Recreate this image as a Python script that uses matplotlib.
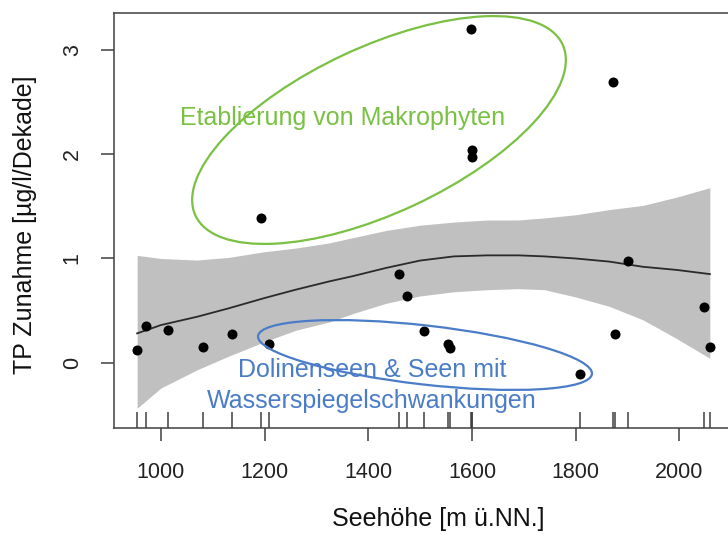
import matplotlib
matplotlib.use("Agg")
import matplotlib.pyplot as plt
from matplotlib.patches import Ellipse

plt.rcParams['font.family'] = ['Liberation Sans', 'DejaVu Sans']

# lakes: altitude (m) and TP increase per decade
seehoehe = [954, 972, 1013, 1081, 1138, 1193, 1208, 1459, 1475, 1507, 1553, 1557,
            1598, 1600, 1601, 1809, 1872, 1876, 1902, 2047, 2060]
tp_zunahme = [0.12, 0.35, 0.31, 0.15, 0.27, 1.39, 0.18, 0.85, 0.64, 0.30, 0.175, 0.135,
              3.21, 2.04, 1.975, -0.11, 2.70, 0.27, 0.98, 0.53, 0.145]

# smoother and its confidence band
fit_x = [954, 1000, 1070, 1130, 1200, 1260, 1325, 1370, 1435, 1500, 1565, 1630,
         1690, 1740, 1800, 1865, 1930, 1995, 2059]
fit_y = [0.28, 0.36, 0.44, 0.52, 0.62, 0.70, 0.78, 0.83, 0.91, 0.98, 1.02, 1.03,
         1.03, 1.02, 1.00, 0.97, 0.92, 0.89, 0.85]
band_hi = [1.03, 1.00, 0.985, 1.01, 1.065, 1.10, 1.15, 1.20, 1.27, 1.32, 1.35, 1.37,
           1.37, 1.39, 1.42, 1.47, 1.51, 1.59, 1.68]
band_lo = [-0.44, -0.245, -0.07, 0.06, 0.20, 0.31, 0.39, 0.47, 0.57, 0.64, 0.68, 0.70,
           0.71, 0.70, 0.63, 0.54, 0.41, 0.23, 0.04]

green = '#7ac143'
blue = '#4a7cc8'
axcol = '#404040'

fig = plt.figure(figsize=(7.28, 5.34), dpi=100)
ax = fig.add_axes([0.1566, 0.199, 0.8503, 0.7773])

ax.fill_between(fit_x, band_lo, band_hi, color='#c0c0c0', lw=0, zorder=1)
ax.plot(fit_x, fit_y, color='#2a2a2a', lw=1.3, zorder=2)
ax.scatter(seehoehe, tp_zunahme, s=52, color='black', lw=0, zorder=3)
ax.vlines(seehoehe, 0, 0.038, transform=ax.get_xaxis_transform(),
          color=axcol, lw=1.1, zorder=3)

ax.set_xlim(909.4, 2103.7)
ax.set_ylim(-0.627, 3.363)
ax.set_xticks([1000, 1200, 1400, 1600, 1800, 2000])
ax.set_yticks([0, 1, 2, 3])
ax.tick_params(axis='both', labelsize=15.5, length=9.5, width=1.1,
               color=axcol, labelcolor='#222222', pad=15)
ax.tick_params(axis='y', pad=13)
for lab in ax.get_yticklabels():
    lab.set_rotation(90)
    lab.set_va('center')
for sp in ax.spines.values():
    sp.set_color(axcol)
    sp.set_linewidth(1.1)

ax.set_xlabel('Seehöhe [m ü.NN.]', fontsize=18, color='#111111')
ax.xaxis.set_label_coords(0.523, -0.19)
ax.set_ylabel('TP Zunahme [µg/l/Dekade]', fontsize=18, color='#111111')
ax.yaxis.set_label_coords(-0.125, 0.49)

ax.text(1350, 2.35, 'Etablierung von Makrophyten', color=green, fontsize=18,
        ha='center', va='center', zorder=4)
ax.text(1408, -0.07, 'Dolinenseen & Seen mit', color=blue, fontsize=18,
        ha='center', va='center', zorder=4)
ax.text(1406, -0.37, 'Wasserspiegelschwankungen', color=blue, fontsize=18,
        ha='center', va='center', zorder=4)

# hand-drawn ellipses, placed in figure inches
fig.add_artist(Ellipse((3.79, 4.04), 4.05, 1.66, angle=25, fill=False,
                       ec=green, lw=1.6, transform=fig.dpi_scale_trans))
fig.add_artist(Ellipse((4.25, 1.79), 3.36, 0.59, angle=-6.5, fill=False,
                       ec=blue, lw=1.6, transform=fig.dpi_scale_trans))

fig.savefig('out.png', dpi=100)
